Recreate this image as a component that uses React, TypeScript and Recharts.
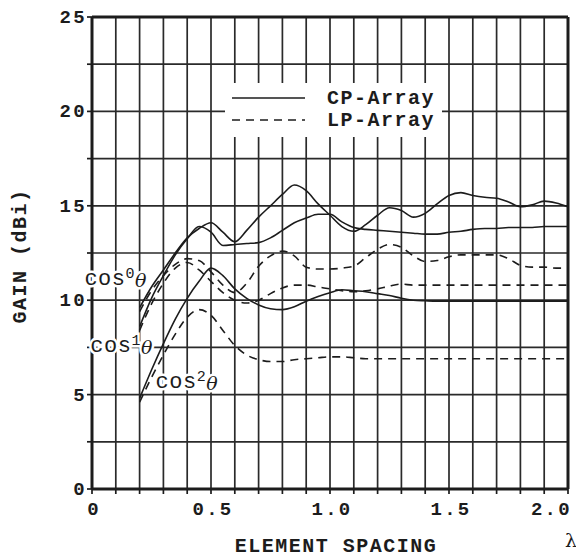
import React from 'react';
import { LineChart, Line, XAxis, YAxis, CartesianGrid, ReferenceLine, ReferenceDot, Legend, Label } from 'recharts';

// element spacing in wavelengths
const spacing = [
  0.2, 0.25, 0.3, 0.35, 0.4, 0.45, 0.5, 0.55, 0.6, 0.65, 0.7, 0.75, 0.8, 0.85, 0.9, 0.95, 1.0,
  1.05, 1.1, 1.15, 1.2, 1.25, 1.3, 1.35, 1.4, 1.45, 1.5, 1.55, 1.6, 1.65, 1.7, 1.75, 1.8, 1.85,
  1.9, 1.95, 2.0,
];

// CP-array gain (dBi), element pattern cos^n
const cpCos0 = [
  9.6, 10.7, 11.6, 12.5, 13.3, 13.8, 14.1, 13.6, 13.1, 13.7, 14.4, 15.0, 15.6, 16.1, 15.8, 15.1, 14.5,
  13.9, 13.65, 14.0, 14.5, 14.9, 14.75, 14.4, 14.6, 15.1, 15.55, 15.7, 15.55, 15.45, 15.4, 15.2, 14.95, 15.05,
  15.25, 15.15, 14.95,
];
const cpCos1 = [
  8.6, 10.1, 11.3, 12.4, 13.25, 13.9, 13.6, 12.9, 12.95, 13.0, 13.05, 13.3, 13.7, 14.1, 14.35, 14.55, 14.55,
  14.15, 13.85, 13.75, 13.7, 13.65, 13.6, 13.55, 13.5, 13.5, 13.6, 13.65, 13.75, 13.8, 13.8, 13.85, 13.85, 13.85,
  13.9, 13.9, 13.9,
];
const cpCos2 = [
  4.8, 6.3, 7.7, 9.0, 10.1, 11.0, 11.7, 11.3, 10.6, 10.1, 9.75, 9.55, 9.5, 9.65, 9.95, 10.2, 10.4,
  10.55, 10.5, 10.45, 10.35, 10.25, 10.1, 10.0, 9.97, 9.95, 9.95, 9.95, 9.95, 9.95, 9.95, 9.95, 9.95, 9.95,
  9.95, 9.95, 9.95,
];

// LP-array gain (dBi)
const lpCos0 = [
  9.4, 10.5, 11.3, 11.9, 12.2, 12.1, 11.5, 10.8, 10.4, 10.9, 11.8, 12.35, 12.6, 12.35, 11.75, 11.65, 11.65,
  11.7, 11.8, 12.25, 12.7, 12.95, 12.8, 12.35, 12.05, 12.1, 12.3, 12.4, 12.4, 12.4, 12.4, 12.2, 11.85, 11.75,
  11.75, 11.7, 11.7,
];
const lpCos1 = [
  8.4, 9.8, 10.9, 11.7, 12.0, 11.6, 11.0, 10.4, 10.0, 9.85, 10.0, 10.35, 10.65, 10.8, 10.8, 10.7, 10.6,
  10.5, 10.45, 10.5, 10.6, 10.75, 10.85, 10.8, 10.8, 10.8, 10.8, 10.8, 10.8, 10.8, 10.8, 10.8, 10.8, 10.8,
  10.8, 10.8, 10.8,
];
const lpCos2 = [
  4.6, 5.9, 7.1, 8.2, 9.1, 9.5, 9.2, 8.4, 7.6, 7.1, 6.85, 6.75, 6.75, 6.85, 6.9, 6.95, 7.0,
  7.0, 6.95, 6.9, 6.9, 6.9, 6.9, 6.9, 6.9, 6.9, 6.9, 6.9, 6.9, 6.9, 6.9, 6.9, 6.9, 6.9,
  6.9, 6.9, 6.9,
];

const xTicks = [0, 0.1, 0.2, 0.3, 0.4, 0.5, 0.6, 0.7, 0.8, 0.9, 1.0, 1.1, 1.2, 1.3, 1.4, 1.5, 1.6, 1.7, 1.8, 1.9, 2.0];
const xLabels = ['0', '0.5', '1.0', '1.5', '2.0'];
const yTicks = [0, 2.5, 5, 7.5, 10, 12.5, 15, 17.5, 20, 22.5, 25];
const yLabels = ['0', '5', '10', '15', '20', '25'];

const curveLabels = [
  { x: 0.231, y: 10.83, power: '0' },
  { x: 0.256, y: 7.27, power: '1' },
  { x: 0.53, y: 5.36, power: '2' },
];

const legendItems = [
  { name: 'CP-Array', dash: undefined },
  { name: 'LP-Array', dash: '8 6' },
];

const rows = spacing.map((s, i) => ({
  spacing: s,
  cp0: cpCos0[i],
  cp1: cpCos1[i],
  cp2: cpCos2[i],
  lp0: lpCos0[i],
  lp1: lpCos1[i],
  lp2: lpCos2[i],
}));

const MONO = '"Liberation Mono", "Courier New", monospace';
const SERIF = '"DejaVu Serif", serif';
const INK = '#1c1c1c';

const fmtX = (v: number) => {
  const s = v === 0 ? '0' : v.toFixed(1);
  return xLabels.includes(s) ? s : '';
};
const fmtY = (v: number) => (yLabels.includes(String(v)) ? String(v) : '');

const XTick = ({ x, y, payload }: any) => {
  const last = payload.value === 2;
  return (
    <text x={last ? x + 4 : x + 2} y={y + 19} textAnchor={last ? 'end' : 'middle'} fontFamily={MONO} fontWeight="bold" fontSize={19} letterSpacing={2.3} fill={INK}>
      {fmtX(payload.value)}
    </text>
  );
};

const YTick = ({ x, y, payload }: any) => (
  <text x={x + 2} y={y + 6} textAnchor="end" fontFamily={MONO} fontWeight="bold" fontSize={19} letterSpacing={2.3} fill={INK}>
    {fmtY(payload.value)}
  </text>
);

const XTitle = ({ viewBox }: any) => {
  const { x, y, width } = viewBox;
  return (
    <g>
      <text x={x + width / 2 + 6} y={y + 63} textAnchor="middle" fontFamily={MONO} fontWeight="bold" fontSize={20} letterSpacing={1.5} fill={INK}>
        ELEMENT SPACING
      </text>
      <text x={x + width + 3} y={y + 58} textAnchor="middle" fontFamily={SERIF} fontSize={19} fill={INK}>
        λ
      </text>
    </g>
  );
};

const YTitle = ({ viewBox }: any) => {
  const cx = 12;
  const cy = viewBox.y + viewBox.height / 2 + 3;
  return (
    <text x={cx} y={cy} transform={`rotate(-90, ${cx}, ${cy})`} textAnchor="middle" dominantBaseline="central" fontFamily={MONO} fontWeight="bold" fontSize={20} letterSpacing={1.5} fill={INK}>
      GAIN (dBi)
    </text>
  );
};

const CosText = ({ cx, cy, power }: any) => (
  <text x={cx} y={cy} textAnchor="end" fontFamily={MONO} fontSize={22} letterSpacing={0.5} fill={INK} stroke="#fff" strokeWidth={5} paintOrder="stroke">
    cos
    <tspan dy={-7} fontSize={15}>{power}</tspan>
    <tspan dy={9} fontFamily={SERIF} fontStyle="italic" fontSize={19}>θ</tspan>
  </text>
);

const LegendBox = () => (
  <svg width={217} height={54} style={{ display: 'block' }}>
    <rect x={0} y={0} width={217} height={54} fill="#fff" />
    {legendItems.map((item, i) => (
      <g key={item.name}>
        <line x1={7} x2={80} y1={15 + i * 22} y2={15 + i * 22} stroke={INK} strokeWidth={1.6} strokeDasharray={item.dash} />
        <text x={102} y={21 + i * 22} fontFamily={MONO} fontWeight="bold" fontSize={20} letterSpacing={1.5} fill={INK}>
          {item.name}
        </text>
      </g>
    ))}
  </svg>
);

export default function App() {
  return (
    <div style={{ width: 576, height: 550 }}>
      <LineChart width={576} height={550} data={rows} margin={{ top: 9, right: 16, bottom: 0, left: 0 }}>
        <CartesianGrid stroke="#2a2a2a" strokeWidth={1.7} horizontal vertical />
        <XAxis
          type="number"
          dataKey="spacing"
          domain={[0, 2]}
          ticks={xTicks}
          interval={0}
          height={69}
          tickSize={5}
          tick={<XTick />}
          axisLine={{ stroke: INK, strokeWidth: 3 }}
          tickLine={{ stroke: INK, strokeWidth: 1.7 }}
        >
          <Label content={<XTitle />} />
        </XAxis>
        <YAxis
          type="number"
          domain={[0, 25]}
          ticks={yTicks}
          interval={0}
          width={84}
          tickSize={5}
          tick={<YTick />}
          axisLine={{ stroke: INK, strokeWidth: 3 }}
          tickLine={{ stroke: INK, strokeWidth: 1.7 }}
        >
          <Label content={<YTitle />} />
        </YAxis>
        <ReferenceLine y={25} stroke={INK} strokeWidth={3} />
        <ReferenceLine x={2} stroke={INK} strokeWidth={3} />
        <Legend layout="horizontal" verticalAlign="middle" align="center" content={<LegendBox />}
          wrapperStyle={{ position: 'absolute', left: 217, top: 75, width: 217, height: 54 }} />
        <Line type="monotone" dataKey="cp0" stroke={INK} strokeWidth={1.6} dot={false} isAnimationActive={false} />
        <Line type="monotone" dataKey="cp1" stroke={INK} strokeWidth={1.6} dot={false} isAnimationActive={false} />
        <Line type="monotone" dataKey="cp2" stroke={INK} strokeWidth={1.6} dot={false} isAnimationActive={false} />
        <Line type="monotone" dataKey="lp0" stroke={INK} strokeWidth={1.6} strokeDasharray="8 6" dot={false} isAnimationActive={false} />
        <Line type="monotone" dataKey="lp1" stroke={INK} strokeWidth={1.6} strokeDasharray="8 6" dot={false} isAnimationActive={false} />
        <Line type="monotone" dataKey="lp2" stroke={INK} strokeWidth={1.6} strokeDasharray="8 6" dot={false} isAnimationActive={false} />
        {curveLabels.map((c) => (
          <ReferenceDot key={c.power} x={c.x} y={c.y} r={0} shape={(p: any) => <CosText cx={p.cx} cy={p.cy} power={c.power} />} />
        ))}
      </LineChart>
    </div>
  );
}
